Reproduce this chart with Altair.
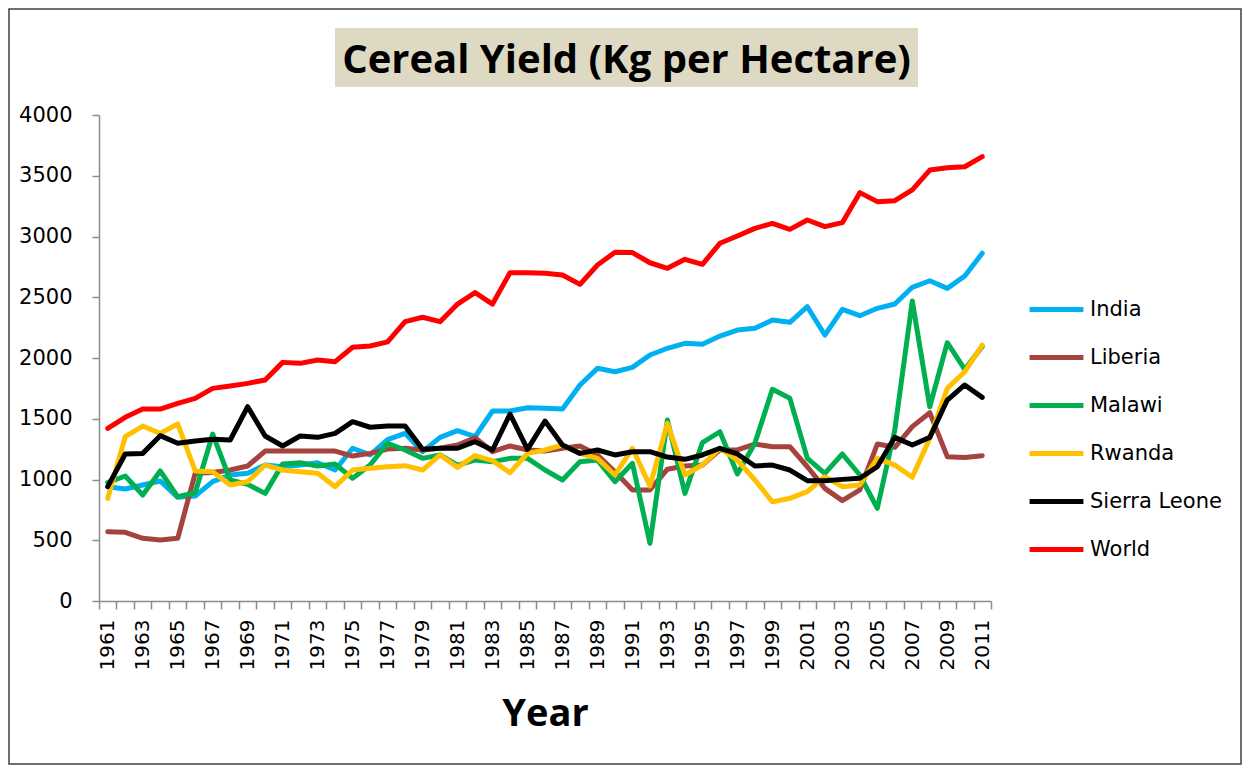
import altair as alt
import pandas as pd

years = list(range(1961, 2012))

india = [941, 922, 955, 988, 853, 864, 982, 1037, 1051, 1119, 1105, 1119, 1138, 1078, 1257, 1202,
         1328, 1380, 1229, 1347, 1402, 1352, 1564, 1564, 1591, 1586, 1580, 1778, 1915, 1887, 1923,
         2025, 2080, 2121, 2113, 2181, 2230, 2244, 2313, 2294, 2422, 2189, 2400, 2348, 2409, 2444,
         2582, 2636, 2573, 2675, 2862]
liberia = [570, 565, 516, 502, 516, 1051, 1057, 1078, 1111, 1234, 1234, 1234, 1234, 1234, 1193, 1215,
           1250, 1257, 1243, 1257, 1284, 1344, 1229, 1276, 1243, 1234, 1257, 1276, 1202, 1064, 914,
           914, 1085, 1111, 1119, 1243, 1243, 1292, 1270, 1270, 1105, 927, 826, 914, 1292, 1265,
           1435, 1550, 1188, 1182, 1196]
malawi = [974, 1029, 872, 1070, 858, 891, 1374, 996, 960, 886, 1127, 1138, 1111, 1127, 1010, 1119,
          1298, 1243, 1174, 1202, 1119, 1160, 1147, 1174, 1174, 1078, 996, 1147, 1160, 982, 1133,
          475, 1490, 886, 1303, 1393, 1045, 1298, 1742, 1668, 1174, 1051, 1210, 1037, 763, 1407,
          2469, 1599, 2126, 1907, 2095]
rwanda = [845, 1352, 1440, 1380, 1457, 1070, 1064, 955, 982, 1119, 1078, 1064, 1051, 941, 1078, 1092,
          1105, 1114, 1078, 1202, 1100, 1196, 1155, 1056, 1215, 1243, 1284, 1215, 1174, 1037, 1257,
          946, 1462, 1037, 1119, 1257, 1160, 996, 817, 845, 900, 1023, 941, 955, 1174, 1119,
          1018, 1339, 1750, 1887, 2105]
sierra_leone = [941, 1210, 1215, 1361, 1298, 1317, 1331, 1325, 1599, 1358, 1276, 1358, 1347, 1380, 1476,
                1430, 1440, 1440, 1248, 1257, 1257, 1311, 1243, 1539, 1248, 1481, 1284, 1215, 1243,
                1202, 1229, 1229, 1185, 1166, 1202, 1257, 1210, 1111, 1119, 1078, 990, 990, 1001,
                1010, 1105, 1347, 1284, 1347, 1654, 1778, 1676]
world = [1421, 1512, 1580, 1580, 1627, 1668, 1750, 1769, 1791, 1819, 1964, 1956, 1983, 1970, 2088,
         2099, 2133, 2299, 2335, 2299, 2444, 2538, 2444, 2702, 2702, 2697, 2683, 2606, 2765, 2870,
         2868, 2784, 2738, 2812, 2771, 2944, 3004, 3067, 3108, 3059, 3136, 3081, 3114, 3361, 3287,
         3295, 3383, 3547, 3566, 3574, 3657]

countries = ["India", "Liberia", "Malawi", "Rwanda", "Sierra Leone", "World"]
colors = ["#00B0F0", "#A5433F", "#00B050", "#FFC000", "#000000", "#FF0000"]
series = [india, liberia, malawi, rwanda, sierra_leone, world]
y_ticks = [0, 500, 1000, 1500, 2000, 2500, 3000, 3500, 4000]
chart_title = "Cereal Yield (Kg per Hectare)"

rows = []
for name, vals in zip(countries, series):
    for yr, v in zip(years, vals):
        rows.append({"Year": yr, "Country": name, "Yield": v})
df = pd.DataFrame(rows)

W, H = 892, 486
PAD_L, PAD_T = 91, 107
PAD_R = 1234 - PAD_L - W
PAD_B = 757 - PAD_T - H

lines = alt.Chart(df).mark_line(strokeWidth=5, strokeJoin="round", strokeCap="round").encode(
    x=alt.X("Year:O", bandPosition=0.5,
            scale=alt.Scale(type="band", paddingInner=0, paddingOuter=0),
            axis=alt.Axis(title="Year", labelAngle=270,
                          labelExpr="datum.value % 2 == 1 ? datum.label : ''",
                          tickBand="extent", tickSize=8, labelPadding=10,
                          labelFont="DejaVu Sans", labelFontSize=20, labelColor="#000000",
                          titleFont="Open Sans", titleFontSize=38, titleFontWeight="bold",
                          titleColor="#000000", titleBaseline="alphabetic", titleY=124,
                          domainColor="#8C8C8C", tickColor="#8C8C8C",
                          domainWidth=1.5, tickWidth=1.5)),
    y=alt.Y("Yield:Q", scale=alt.Scale(domain=[0, 4000]),
            axis=alt.Axis(title=None, values=y_ticks, format="d", grid=False, tickSize=7,
                          labelPadding=20,
                          labelFont="DejaVu Sans", labelFontSize=21, labelColor="#000000",
                          domainColor="#8C8C8C", tickColor="#8C8C8C",
                          domainWidth=1.5, tickWidth=1.5)),
    color=alt.Color("Country:N", scale=alt.Scale(domain=countries, range=colors),
                    legend=alt.Legend(title=None, orient="none", legendX=928, legendY=165,
                                      symbolType="stroke", symbolSize=2900, symbolStrokeWidth=5,
                                      labelFont="DejaVu Sans", labelFontSize=21,
                                      labelColor="#000000", labelOffset=4, rowPadding=8)),
)

title_bg = alt.Chart(alt.Data(values=[{"k": 1}])).mark_rect(color="#DDD9C3").encode(
    x=alt.value(236), x2=alt.value(819), y=alt.value(-87), y2=alt.value(-28)
)

title_text = alt.Chart(alt.Data(values=[{"t": chart_title}])).mark_text(
    font="Open Sans", fontSize=40, fontWeight="bold", color="#000000",
    align="center", baseline="alphabetic"
).encode(
    text="t:N", x=alt.value(527.5), y=alt.value(-42)
)

frame = alt.Chart(alt.Data(values=[{"k": 1}])).mark_rect(
    fillOpacity=0, stroke="#404040", strokeWidth=1.5
).encode(
    x=alt.value(-90), x2=alt.value(PAD_R + W - 1), y=alt.value(-106), y2=alt.value(PAD_B + H - 1)
)

chart = alt.layer(frame, title_bg, title_text, lines).properties(
    width=W, height=H,
    padding={"left": PAD_L, "top": PAD_T, "right": PAD_R, "bottom": PAD_B},
    autosize=alt.AutoSizeParams(type="none"),
    background="#FFFFFF",
).configure_view(stroke=None)

chart.save("out.html", embed_options={"renderer": "svg", "actions": False})
